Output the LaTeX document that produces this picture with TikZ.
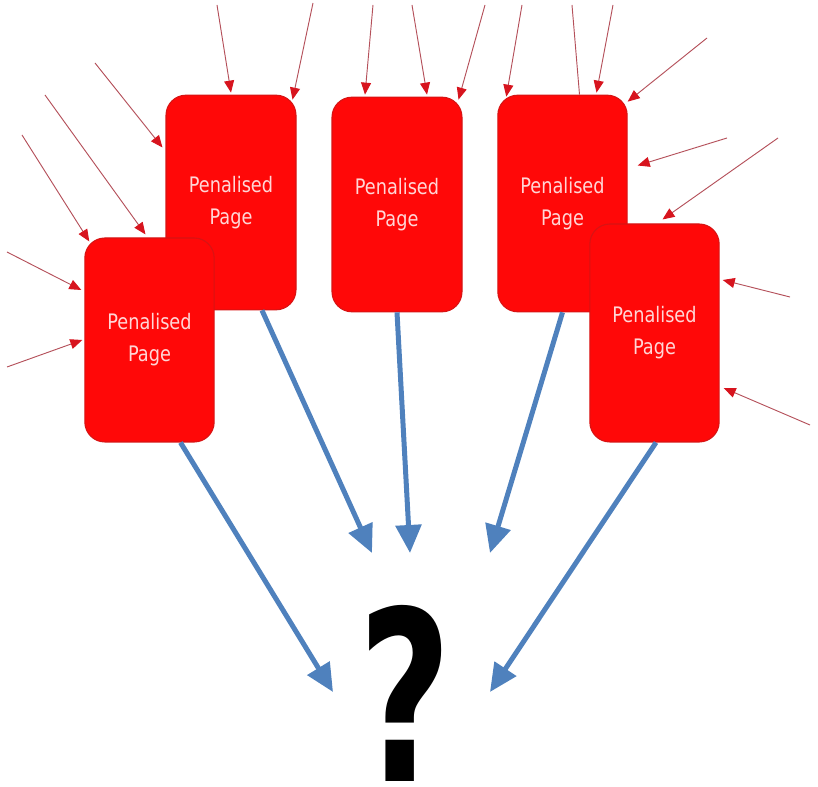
\documentclass[tikz,border=0pt]{standalone}
\usepackage{fontspec}
\setmainfont{DejaVu Sans}
\newfontfamily\qfont{DejaVu Sans}
\usetikzlibrary{arrows.meta}
\definecolor{boxred}{RGB}{255,8,8}
\definecolor{boxedge}{RGB}{215,20,20}
\definecolor{txtpink}{RGB}{255,214,214}
\definecolor{blu}{RGB}{79,129,189}
\definecolor{thinred}{RGB}{180,80,90}
\definecolor{headred}{RGB}{215,20,30}
\newcommand{\sq}[1]{\scalebox{0.83}[1]{#1}}
\tikzset{
  pagebox/.style={rectangle, rounded corners=15pt, fill=boxred, draw=boxedge, line width=0.8pt,
    text=txtpink, align=center, font=\fontsize{16}{24}\selectfont, inner sep=0pt},
  redarr/.style={draw=thinred, line width=0.7pt, -{Triangle[length=9pt,width=7.5pt,color=headred]}},
  redline/.style={draw=thinred, line width=0.7pt},
  bluarr/.style={draw=blu, line width=3.75pt, -{Triangle[length=21pt,width=19pt]}},
}
\begin{document}
\begin{tikzpicture}[x=0.75pt,y=-0.75pt]
\useasboundingbox (0,0) rectangle (818,787);
\coordinate (q1) at (333,692);
\coordinate (q2) at (372,553);
\coordinate (q3) at (410,553);
\coordinate (q4) at (490,553);
\coordinate (q5) at (490,692);
% boxes
\node[pagebox, minimum width=97.5pt, minimum height=161pt] (B) at (231,202.5) {\sq{Penalised}\\\sq{Page}};
\node[pagebox, minimum width=97pt, minimum height=153pt] (A) at (149.5,340) {\sq{Penalised}\\\sq{Page}};
\node[pagebox, minimum width=97.5pt, minimum height=161pt] (C) at (397,204.5) {\sq{Penalised}\\\sq{Page}};
\node[pagebox, minimum width=97pt, minimum height=162.5pt] (D) at (562.5,203.5) {\sq{Penalised}\\\sq{Page}};
\node[pagebox, minimum width=97pt, minimum height=163.5pt] (E) at (654.5,333) {\sq{Penalised}\\\sq{Page}};
% blue arrows
\draw[bluarr] ([shift={(31,0)}]A.south) -- (q1);
\draw[bluarr] ([shift={(31,0)}]B.south) -- (q2);
\draw[bluarr] (C.south) -- (q3);
\draw[bluarr] (D.south) -- (q4);
\draw[bluarr] ([shift={(1.5,0)}]E.south) -- (q5);
% question mark
\node[anchor=base, inner sep=0pt, font=\qfont\bfseries\fontsize{178}{178}\selectfont] (qm) at (405,781) {\scalebox{0.68}[1]{?}};
% red incoming arrows: start coordinates
\coordinate (a1) at (217,5);
\coordinate (a2) at (313,3);
\coordinate (b1) at (373,5);
\coordinate (b2) at (412,5);
\coordinate (b3) at (485,5);
\coordinate (d1) at (522,5);
\coordinate (d2) at (572,5);
\coordinate (d3) at (613,5);
\coordinate (d4) at (707,38);
\coordinate (l1) at (95,63);
\coordinate (l2) at (45,95);
\coordinate (l3) at (22,135);
\coordinate (l4) at (7,252);
\coordinate (l5) at (7,367);
\coordinate (r1) at (727,138);
\coordinate (r2) at (778,138);
\coordinate (r3) at (790,297);
\coordinate (r4) at (810,425);
\draw[redarr] (a1) -- ([shift={(0,-2)}]B.north);
\draw[redarr] (a2) -- ([shift={(-4,5)}]B.north east);
\draw[redarr] (b1) -- ([shift={(-32,-2)}]C.north);
\draw[redarr] (b2) -- ([shift={(30,-2)}]C.north);
\draw[redarr] (b3) -- ([shift={(-4,3)}]C.north east);
\draw[redarr] (d1) -- ([shift={(9,2)}]D.north west);
\draw[redline] (d2) -- ([shift={(17,0)}]D.north);
\draw[redarr] (d3) -- ([shift={(34,-2)}]D.north);
\draw[redarr] (d4) -- ([shift={(0,7)}]D.north east);
\draw[redarr] (r1) -- ([shift={(10,-38)}]D.east);
\draw[redarr] (r2) -- ([shift={(8,-4)}]E.north);
\draw[redarr] (r3) -- ([shift={(3,-53)}]E.east);
\draw[redarr] (r4) -- ([shift={(4,55)}]E.east);
\draw[redarr] (l1) -- ([shift={(-3,-55)}]B.west);
\draw[redarr] (l2) -- ([shift={(-4,-3)}]A.north);
\draw[redarr] (l3) -- ([shift={(5,4)}]A.north west);
\draw[redarr] (l4) -- ([shift={(-3,-50)}]A.west);
\draw[redarr] (l5) -- ([shift={(-2,0)}]A.west);
\end{tikzpicture}
\end{document}
